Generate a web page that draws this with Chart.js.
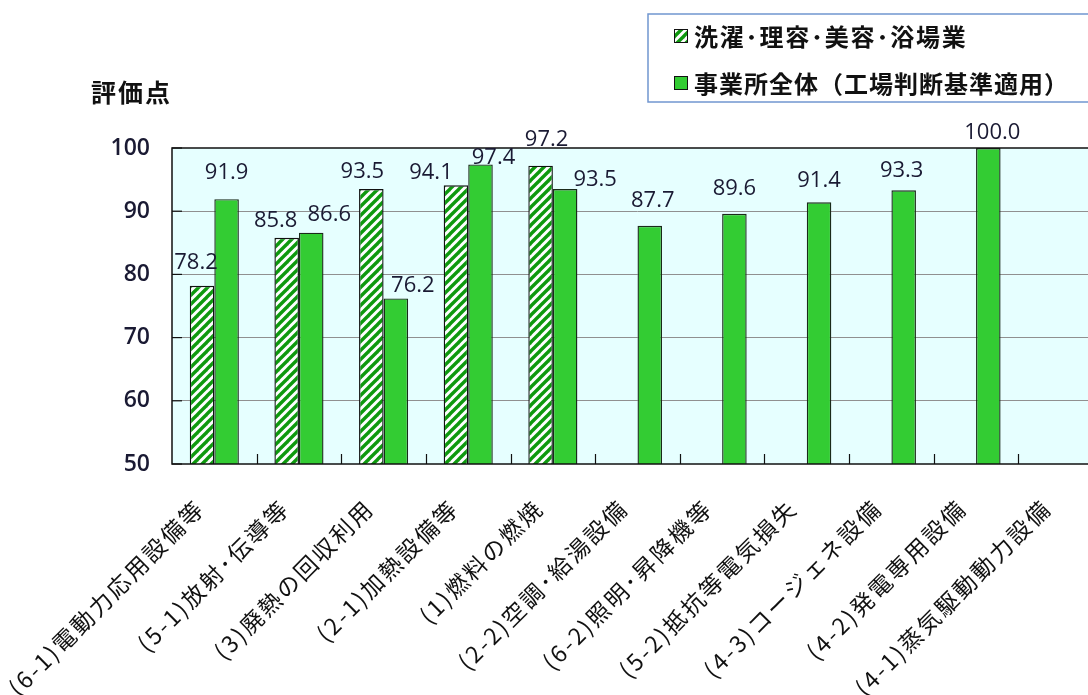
<!DOCTYPE html>
<html><head><meta charset="utf-8">
<script src="https://cdn.jsdelivr.net/npm/chart.js@4"></script>
<style>
html,body{margin:0;padding:0;overflow:hidden;background:#fff;width:1088px;height:695px}
#wrap{position:absolute;left:0;top:0;width:1120px;height:695px}
</style></head>
<body><div id="wrap"><canvas id="c" width="1120" height="695"></canvas></div>
<script>
const categories = ['(6-1)電動力応用設備等','(5-1)放射･伝導等','(3)廃熱の回収利用','(2-1)加熱設備等','(1)燃料の燃焼','(2-2)空調･給湯設備','(6-2)照明･昇降機等','(5-2)抵抗等電気損失','(4-3)コージェネ設備','(4-2)発電専用設備','(4-1)蒸気駆動動力設備'];
const seriesNames = ['洗濯･理容･美容･浴場業','事業所全体（工場判断基準適用）'];
const laundryScores = [78.2,85.8,93.5,94.1,97.2,null,null,null,null,null,null];
const allSitesScores = [91.9,86.6,76.2,97.4,93.5,87.7,89.6,91.4,93.3,100.0,50.0];
const yTicks = [50,60,70,80,90,100];
const yTitle = '評価点';

function makeHatch(){
  const s = 9, cv = document.createElement('canvas');
  cv.width = s; cv.height = s;
  const g = cv.getContext('2d');
  g.fillStyle = '#ffffff'; g.fillRect(0,0,s,s);
  g.strokeStyle = '#0e990e'; g.lineWidth = 3.4; g.lineCap = 'square';
  for (const o of [-s,0,s]) { g.beginPath(); g.moveTo(o, s); g.lineTo(o+s, 0); g.stroke(); }
  return document.getElementById('c').getContext('2d').createPattern(cv,'repeat');
}
const hatch = makeHatch();
const GREEN = '#33cc33';

const bgPlugin = {
  id:'bg',
  beforeDraw(chart){
    const {ctx, chartArea:a} = chart;
    ctx.save(); ctx.fillStyle = '#e6ffff';
    ctx.fillRect(a.left, a.top, a.right-a.left, a.bottom-a.top);
    ctx.restore();
  }
};

const framePlugin = {
  id:'frame',
  afterDatasetsDraw(chart){
    const {ctx, chartArea:a, scales} = chart;
    ctx.save();
    ctx.strokeStyle = '#111'; ctx.lineWidth = 1.5;
    ctx.strokeRect(a.left, a.top, a.right-a.left, a.bottom-a.top);
    ctx.lineWidth = 1.2;
    yTicks.forEach(v => {
      const y = scales.y.getPixelForValue(v);
      ctx.beginPath(); ctx.moveTo(a.left, y); ctx.lineTo(a.left+10, y); ctx.stroke();
    });
    const n = categories.length, w = (a.right-a.left)/n;
    for (let i=1;i<n;i++){
      const x = Math.round(a.left + i*w)+0.5;
      ctx.beginPath(); ctx.moveTo(x, a.bottom); ctx.lineTo(x, a.bottom-10); ctx.stroke();
    }
    ctx.restore();
  }
};

const xLabelPlugin = {
  id:'xLabels',
  afterDraw(chart){
    const {ctx, chartArea:a, scales} = chart;
    ctx.save();
    ctx.font = '23px "Noto Sans CJK JP"';
    ctx.letterSpacing = '2.5px';
    ctx.fillStyle = '#111';
    ctx.textAlign = 'right'; ctx.textBaseline = 'middle';
    categories.forEach((lab, i) => {
      const x = scales.x.getPixelForTick(i) - 16, y = a.bottom + 42;
      ctx.save();
      ctx.translate(x, y); ctx.rotate(-Math.PI/4);
      ctx.fillText(lab, 3, 0);
      ctx.restore();
    });
    ctx.restore();
  }
};

const labelPlugin = {
  id:'valueLabels',
  afterDatasetsDraw(chart, args, opts){
    const {ctx, scales} = chart;
    ctx.save();
    ctx.font = '22px "Open Sans"';
    ctx.fillStyle = '#1a1a33';
    ctx.textAlign = 'center'; ctx.textBaseline = 'middle';
    chart.data.datasets.forEach((ds, di) => {
      const meta = chart.getDatasetMeta(di);
      meta.data.forEach((el, i) => {
        const v = ds.data[i];
        if (v == null || v <= scales.y.min) return;
        const dx = opts.dx[di][i] || 0, gap = opts.gap[di][i] || 20;
        const top = scales.y.getPixelForValue(v);
        ctx.fillText(v.toFixed(1), el.x + dx, top - gap);
      });
    });
    ctx.restore();
  }
};

const legendPlugin = {
  id:'boxLegend',
  afterDraw(chart){
    const ctx = chart.ctx;
    ctx.save();
    ctx.fillStyle = '#fff';
    ctx.fillRect(648, 14, 470, 88);
    ctx.strokeStyle = '#7096d0'; ctx.lineWidth = 1.5;
    ctx.strokeRect(648, 14, 470, 88);
    const rows = [36, 83];
    chart.data.datasets.forEach((ds, i) => {
      const y = rows[i];
      ctx.fillStyle = ds.backgroundColor;
      ctx.fillRect(674, y-7, 14, 14);
      ctx.strokeStyle = '#111'; ctx.lineWidth = 1;
      ctx.strokeRect(674.5, y-6.5, 13, 13);
      ctx.fillStyle = '#111';
      ctx.font = 'bold 24px "Noto Sans CJK JP"';
      ctx.letterSpacing = i === 0 ? '1.8px' : '1px';
      ctx.textAlign = 'left'; ctx.textBaseline = 'middle';
      ctx.fillText(ds.label, 694, y+1);
    });
    ctx.letterSpacing = '2px';
    ctx.font = 'bold 25px "Noto Sans CJK JP"';
    ctx.fillStyle = '#111';
    ctx.textAlign = 'left'; ctx.textBaseline = 'middle';
    ctx.fillText(yTitle, 91, 92);
    ctx.restore();
  }
};

new Chart(document.getElementById('c'), {
  type:'bar',
  data:{
    labels: categories,
    datasets:[
      {label: seriesNames[0], data: laundryScores, backgroundColor: hatch, borderColor:'#111', borderWidth:1.4,
       barPercentage:1, categoryPercentage:0.58},
      {label: seriesNames[1], data: allSitesScores, backgroundColor: GREEN, borderColor:'#1a2a1a', borderWidth:1.4,
       barPercentage:1, categoryPercentage:0.58, minBarLength:3}
    ]
  },
  options:{
    responsive:false, animation:false,
    layout:{padding:{top:148, right:17, bottom:0, left:0}},
    plugins:{
      legend:{display:false}, tooltip:{enabled:false},
      valueLabels:{
        dx:[[-6,-11,-9,-25,6],[0,18,17,13,30,3,0,0,-2,4,0]],
        gap:[[23,17,17,13,26],[26,18,13,7,9,25,25,22,20,15,20]]
      }
    },
    scales:{
      x:{
        grid:{display:false, drawTicks:false}, border:{display:false},
        ticks:{display:false},
        afterFit(s){ s.height = 231; }
      },
      y:{
        min:50, max:100,
        afterBuildTicks(s){ s.ticks = yTicks.map(v => ({value:v})); },
        grid:{drawTicks:false, color:'#909090', lineWidth: c => (c.tick && (c.tick.value===50||c.tick.value===100)) ? 0 : 1},
        border:{display:false},
        ticks:{padding:22, font:{family:'"Open Sans"', size:23, weight:'600'}, color:'#1a1a33'},
        afterFit(s){ s.width = 172; }
      }
    }
  },
  plugins:[bgPlugin, framePlugin, labelPlugin, xLabelPlugin, legendPlugin]
});
</script>
</body></html>
